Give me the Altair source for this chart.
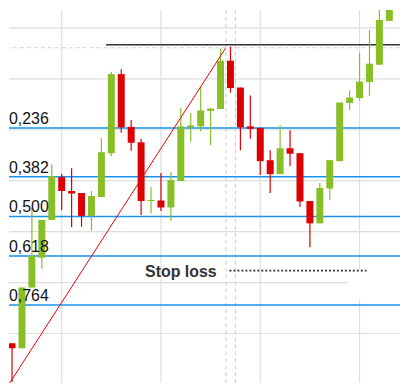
import altair as alt
import pandas as pd

# ---- candle data (index, OHLC) ----
open_ = [104.1, 103.6, 109.7, 112.7, 116.5, 120.8, 119.4, 119.2, 116.9, 118.8,
         123.2, 131.15, 125.85, 124.3, 118.4, 118.45, 117.75, 120.4, 125.8, 125.9,
         127.45, 127.65, 132.5, 129.8, 125.9, 125.75, 122.5, 121.1, 123.7, 123.2,
         118.4, 116.15, 119.65, 122.4, 128.25, 128.75, 130.35, 132.1, 136.5]
high = [104.1, 109.7, 117.7, 116.5, 122.1, 121.1, 121.7, 119.2, 119.4, 124.7,
        131.4, 131.65, 126.55, 124.65, 119.8, 121.2, 121.3, 127.75, 127.25, 129.9,
        127.7, 133.75, 133.9, 129.8, 129.0, 125.75, 123.5, 126.0, 125.5, 123.2,
        118.4, 120.2, 122.5, 128.3, 129.5, 133.3, 135.6, 137.9, 139.5]
low = [100.2, 103.6, 109.7, 111.6, 116.5, 117.5, 115.75, 115.8, 115.4, 118.8,
       122.9, 125.25, 123.45, 117.0, 117.15, 117.4, 116.4, 120.4, 124.35, 125.4,
       124.0, 127.65, 129.3, 123.5, 124.65, 121.0, 119.2, 121.1, 121.9, 117.8,
       113.75, 116.15, 118.5, 122.4, 127.55, 128.5, 129.0, 132.1, 136.5]
close = [103.6, 109.7, 112.9, 116.5, 120.9, 119.4, 119.15, 116.9, 118.9, 123.3,
         131.15, 125.8, 124.25, 118.4, 118.5, 117.75, 120.5, 125.9, 126.0, 127.5,
         127.7, 132.5, 129.75, 125.8, 125.65, 122.4, 121.1, 123.7, 123.15, 118.35,
         116.15, 119.7, 122.5, 128.3, 128.8, 130.4, 132.2, 136.6, 139.0]
idx = list(range(len(open_)))

# ---- Fibonacci retracement ----
swing_low = 100.0
swing_high = 133.7
fib_ratios = [0.236, 0.382, 0.5, 0.618, 0.764]
fib_labels = ["0,236", "0,382", "0,500", "0,618", "0,764"]

# ---- other annotations ----
grid_prices = [135.8, 130.68, 125.56, 120.44, 115.32, 110.2, 105.08, 99.96]
grid_idx = [5, 15, 25, 35]
cross_idx = [21.55, 22.5]
top_dashed = [133.8]
resistance = {"x": 9.47, "x2": 40.0, "y": 134.1}
trend_x = [-0.3, 21.5]
trend_y = [100.0, 133.75]
stop_loss = 111.4
stop_text_x = 13.4
stop_line_x = [21.9, 35.7]
blank_box = {"x": 33.8, "x2": 40.0, "y": 108.5, "y2": 111.6}

GREEN = "#88bf26"
RED = "#dd0000"
BLUE = "#1593ee"
GRID = "#dedede"

df = pd.DataFrame({"i": idx, "open": open_, "high": high, "low": low, "close": close})
df["dir"] = ["up" if c >= o else "down" for o, c in zip(open_, close)]

fib_df = pd.DataFrame({
    "label": fib_labels,
    "price": [swing_high - r * (swing_high - swing_low) for r in fib_ratios],
})

xs = alt.Scale(domain=[0.195, 38.574], nice=False, zero=False)
ys = alt.Scale(domain=[100.1, 137.6], nice=False, zero=False)
color = alt.Color("dir:N", scale=alt.Scale(domain=["up", "down"], range=[GREEN, RED]), legend=None)

hgrid = alt.Chart(pd.DataFrame({"g": grid_prices})).mark_rule(color=GRID, strokeWidth=1.2, clip=True).encode(
    y=alt.Y("g:Q", scale=ys, axis=None))
vgrid = alt.Chart(pd.DataFrame({"g": grid_idx})).mark_rule(color=GRID, strokeWidth=1.2).encode(
    x=alt.X("g:Q", scale=xs, axis=None))
box = alt.Chart(pd.DataFrame([blank_box])).mark_rect(color="white", clip=True).encode(
    x=alt.X("x:Q", scale=xs, axis=None), x2="x2:Q",
    y=alt.Y("y:Q", scale=ys, axis=None), y2="y2:Q")
cross = alt.Chart(pd.DataFrame({"g": cross_idx})).mark_rule(
    color="#d4d4d4", strokeWidth=1.2, strokeDash=[4, 3]).encode(x=alt.X("g:Q", scale=xs, axis=None))
hdash = alt.Chart(pd.DataFrame({"g": top_dashed})).mark_rule(
    color="#d4d4d4", strokeWidth=1.2, strokeDash=[4, 3]).encode(y=alt.Y("g:Q", scale=ys, axis=None))
res = alt.Chart(pd.DataFrame([resistance])).mark_rule(color="#333333", strokeWidth=1.4, clip=True).encode(
    x=alt.X("x:Q", scale=xs, axis=None), x2="x2:Q", y=alt.Y("y:Q", scale=ys, axis=None))

fib_lines = alt.Chart(fib_df).mark_rule(color=BLUE, strokeWidth=1.5).encode(
    y=alt.Y("price:Q", scale=ys, axis=None))
fib_text = alt.Chart(fib_df).mark_text(
    align="left", baseline="alphabetic", dy=-4, fontSize=16, font="Liberation Sans", color="#111111"
).encode(x=alt.value(0), y=alt.Y("price:Q", scale=ys, axis=None), text="label:N")

wicks = alt.Chart(df).mark_rule(strokeWidth=1.2, clip=True).encode(
    x=alt.X("i:Q", scale=xs, axis=None), y=alt.Y("low:Q", scale=ys, axis=None), y2="high:Q", color=color)
bodies = alt.Chart(df).mark_bar(size=7, clip=True).encode(
    x=alt.X("i:Q", scale=xs, axis=None), y=alt.Y("open:Q", scale=ys, axis=None), y2="close:Q", color=color)

trend = alt.Chart(pd.DataFrame({"x": trend_x, "y": trend_y})).mark_line(
    color="#ee0000", strokeWidth=1, clip=True).encode(
    x=alt.X("x:Q", scale=xs, axis=None), y=alt.Y("y:Q", scale=ys, axis=None))

sl_line = alt.Chart(pd.DataFrame([{"x": stop_line_x[0], "x2": stop_line_x[1], "y": stop_loss}])).mark_rule(
    color="#333333", strokeWidth=2, strokeDash=[2, 2]).encode(
    x=alt.X("x:Q", scale=xs, axis=None), x2="x2:Q", y=alt.Y("y:Q", scale=ys, axis=None))
sl_text = alt.Chart(pd.DataFrame([{"x": stop_text_x, "y": stop_loss, "t": "Stop loss"}])).mark_text(
    align="left", baseline="alphabetic", dy=6, fontSize=16, fontWeight="bold",
    font="Liberation Sans", color="#333333").encode(
    x=alt.X("x:Q", scale=xs, axis=None), y=alt.Y("y:Q", scale=ys, axis=None), text="t:N")

chart = alt.layer(
    hgrid, vgrid, box, cross, hdash, res, fib_lines, wicks, bodies, trend, sl_line, sl_text, fib_text
).properties(width=393, height=375, padding=0).configure_view(strokeWidth=0)

chart.save("out.html", embed_options={"renderer": "svg", "actions": False})
